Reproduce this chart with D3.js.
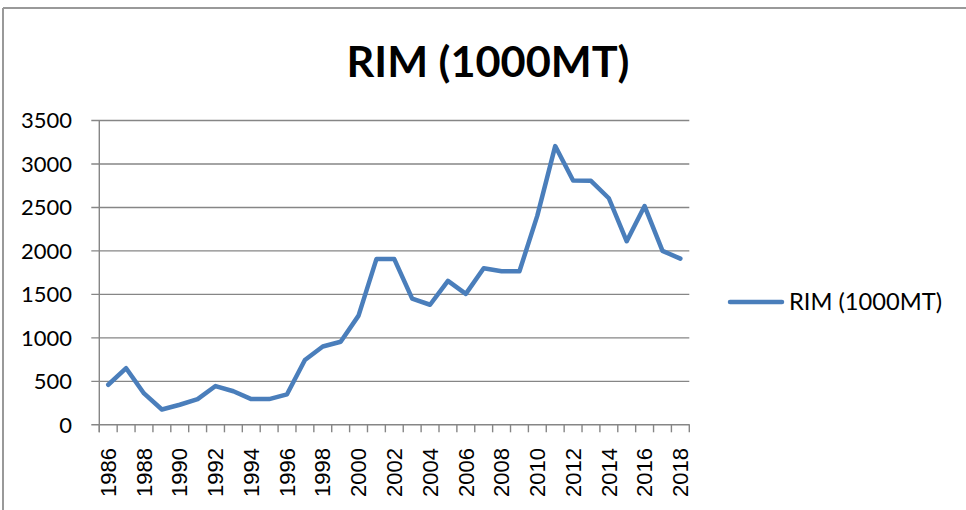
<!DOCTYPE html>
<html>
<head>
<meta charset="utf-8">
<script src="https://cdn.jsdelivr.net/npm/d3@7"></script>
<style>
  html, body { margin: 0; padding: 0; background: #fff; }
  svg { display: block; }
</style>
</head>
<body>
<svg id="chart" width="966" height="510"></svg>
<script>
// ---- data ----
const years = [1986,1987,1988,1989,1990,1991,1992,1993,1994,1995,1996,1997,1998,1999,2000,2001,2002,
               2003,2004,2005,2006,2007,2008,2009,2010,2011,2012,2013,2014,2015,2016,2017,2018];
const rim = [455,645,355,170,225,290,440,380,290,290,345,740,895,950,1250,1900,1900,
             1445,1375,1650,1500,1795,1760,1760,2400,3200,2805,2800,2600,2105,2510,1995,1905];
const yTicks = [0,500,1000,1500,2000,2500,3000,3500];
const seriesName = "RIM (1000MT)";
const titleText = "RIM (1000MT)";

(function () {
// ---- layout ----
const svg = d3.select("#chart");
const pLeft = 99.3, pRight = 689.3, pTop = 120, pBottom = 424.3;
const axisColor = "#868686";
const lineColor = "#4A7EBB";

const x = d3.scaleBand().domain(years).range([pLeft, pRight]).padding(0);
const y = d3.scaleLinear().domain([0, 3500]).range([pBottom, pTop]);

// outer border (top & left)
svg.append("line").attr("x1", 3).attr("x2", 966).attr("y1", 8).attr("y2", 8)
  .attr("stroke", "#999").attr("stroke-width", 2);
svg.append("line").attr("x1", 3).attr("x2", 3).attr("y1", 8).attr("y2", 510)
  .attr("stroke", "#999").attr("stroke-width", 2);

// title
svg.append("text").attr("x", 488).attr("y", 77)
  .attr("text-anchor", "middle")
  .attr("font-family", "Lato, 'Open Sans', sans-serif")
  .attr("font-weight", "bold").attr("font-size", 42)
  .attr("textLength", 283).attr("lengthAdjust", "spacingAndGlyphs")
  .attr("fill", "#000").text(titleText);

// gridlines + y ticks
const yAxis = d3.axisLeft(y).tickValues(yTicks).tickSize(pRight - pLeft + 8).tickFormat(d => d);
const gy = svg.append("g").attr("transform", `translate(${pRight},0)`).call(yAxis);
gy.select(".domain").remove();
gy.selectAll(".tick line").attr("stroke", axisColor).attr("stroke-width", 1.4);
gy.selectAll(".tick text").attr("x", -(pRight - 72)).attr("dy", "0.35em")
  .attr("font-family", "Lato, 'Open Sans', sans-serif").attr("font-size", 22).attr("fill", "#000");

// y axis line
svg.append("line").attr("x1", pLeft).attr("x2", pLeft).attr("y1", pTop).attr("y2", pBottom + 8)
  .attr("stroke", axisColor).attr("stroke-width", 1.4);

// x axis ticks at band boundaries
const bounds = years.map(d => x(d)).concat([pRight]);
svg.append("g").selectAll("line").data(bounds).join("line")
  .attr("x1", d => d).attr("x2", d => d).attr("y1", pBottom).attr("y2", pBottom + 8)
  .attr("stroke", axisColor).attr("stroke-width", 1.4);

// x labels
svg.append("g").selectAll("text").data(years.filter(d => d % 2 === 0)).join("text")
  .attr("transform", d => `translate(${x(d) + x.bandwidth() / 2},448) rotate(-90)`)
  .attr("text-anchor", "end").attr("dy", "0.35em")
  .attr("font-family", "'Liberation Sans', Arial, sans-serif").attr("font-size", 22)
  .attr("fill", "#000").text(d => d);

// line
const line = d3.line().x((d, i) => x(years[i]) + x.bandwidth() / 2).y(d => y(d));
svg.append("path").datum(rim).attr("d", line)
  .attr("fill", "none").attr("stroke", lineColor).attr("stroke-width", 4.5)
  .attr("stroke-linejoin", "round").attr("stroke-linecap", "round");

// legend
svg.append("line").attr("x1", 730).attr("x2", 782).attr("y1", 302).attr("y2", 302)
  .attr("stroke", lineColor).attr("stroke-width", 4.5).attr("stroke-linecap", "round");
svg.append("text").attr("x", 789).attr("y", 302).attr("dy", "0.35em")
  .attr("font-family", "Lato, 'Open Sans', sans-serif").attr("font-size", 23)
  .attr("textLength", 153).attr("lengthAdjust", "spacingAndGlyphs")
  .attr("fill", "#000").text(seriesName);
})();
</script>
</body>
</html>
